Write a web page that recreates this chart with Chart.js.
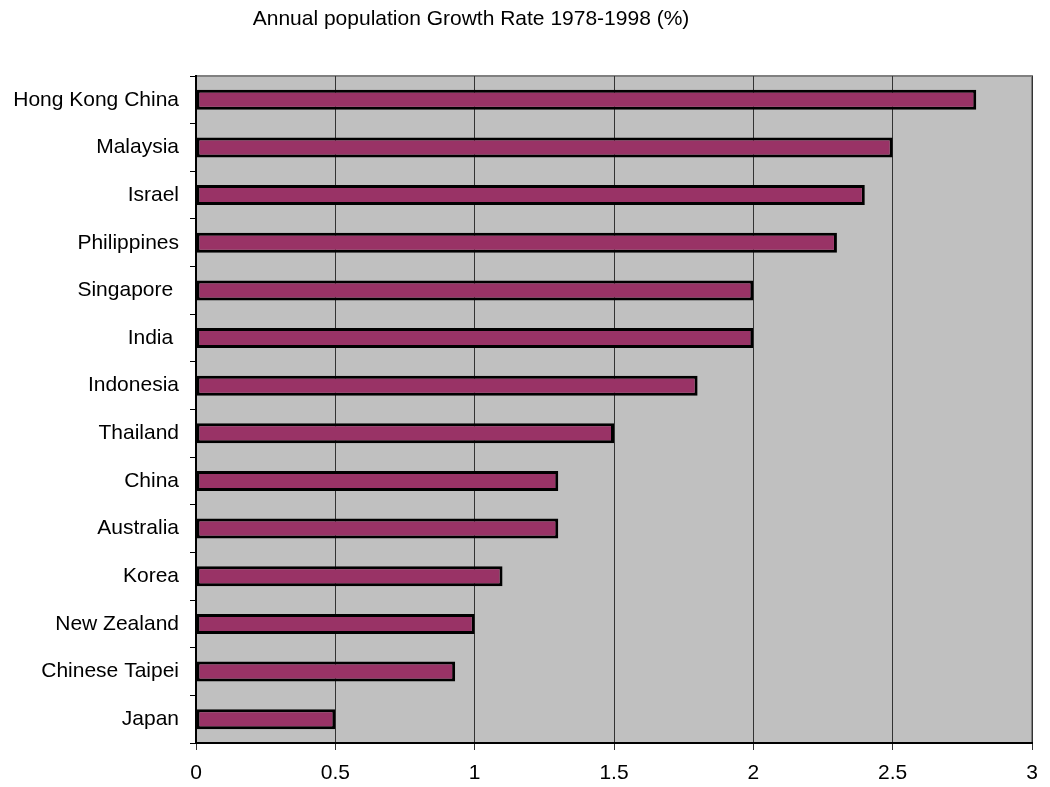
<!DOCTYPE html>
<html>
<head>
<meta charset="utf-8">
<script src="https://cdn.jsdelivr.net/npm/chart.js@4"></script>
<style>
  html, body { margin: 0; padding: 0; background: #fff; }
  #wrap { width: 1050px; height: 787px; }
</style>
</head>
<body>
<div id="wrap"><canvas id="chart" width="1050" height="787"></canvas></div>
<script>
const countries = [
  "Hong Kong China", "Malaysia", "Israel", "Philippines", "Singapore ",
  "India ", "Indonesia", "Thailand", "China", "Australia", "Korea",
  "New Zealand", "Chinese Taipei", "Japan",
];
const growthRate = [2.8, 2.5, 2.4, 2.3, 2.0, 2.0, 1.8, 1.5, 1.3, 1.3, 1.1, 1.0, 0.93, 0.5];
const titleText = "Annual population Growth Rate 1978-1998 (%)";

const FONT = "'Liberation Sans', Arial, sans-serif";

// grey plot background with a grey frame, drawn under the bars
const plotFrame = {
  id: "plotFrame",
  beforeDraw(chart) {
    const { ctx, chartArea: a } = chart;
    ctx.save();
    ctx.fillStyle = "#c0c0c0";
    ctx.fillRect(a.left, a.top, a.right - a.left, a.bottom - a.top);
    ctx.strokeStyle = "#808080";
    ctx.lineWidth = 2;
    ctx.strokeRect(a.left, a.top, a.right - a.left, a.bottom - a.top);
    ctx.restore();
  },
  afterDraw(chart) {
    const { ctx } = chart;
    ctx.save();
    ctx.fillStyle = "#000";
    ctx.font = "21px " + FONT;
    ctx.textAlign = "center";
    ctx.textBaseline = "middle";
    ctx.fillText(titleText, 471, 19);
    ctx.restore();
  },
};

new Chart(document.getElementById("chart"), {
  type: "bar",
  data: {
    labels: countries,
    datasets: [{
      data: growthRate,
      backgroundColor: "#993366",
      borderColor: "#000",
      borderWidth: 3,
      borderSkipped: false,
      barPercentage: 0.42,
      categoryPercentage: 1,
    }],
  },
  options: {
    indexAxis: "y",
    responsive: false,
    animation: false,
    layout: { padding: { top: 76, right: 18, bottom: 0, left: 0 } },
    plugins: {
      legend: { display: false },
      title: { display: false },
      tooltip: { enabled: false },
    },
    scales: {
      x: {
        min: 0,
        max: 3,
        ticks: {
          stepSize: 0.5,
          color: "#000",
          padding: 11,
          font: { family: FONT, size: 21 },
          callback: (v) => String(v),
        },
        grid: { color: "#333", lineWidth: 1, tickLength: 7 },
        border: { color: "#000", width: 2 },
        afterFit(scale) { scale.height = 44; },
      },
      y: {
        ticks: {
          color: "#000",
          padding: 11,
          font: { family: FONT, size: 21 },
        },
        grid: { drawOnChartArea: false, color: "#000", tickLength: 6, offset: true },
        border: { color: "#000", width: 2 },
        afterFit(scale) { scale.width = 196; },
      },
    },
  },
  plugins: [plotFrame],
});
</script>
</body>
</html>
